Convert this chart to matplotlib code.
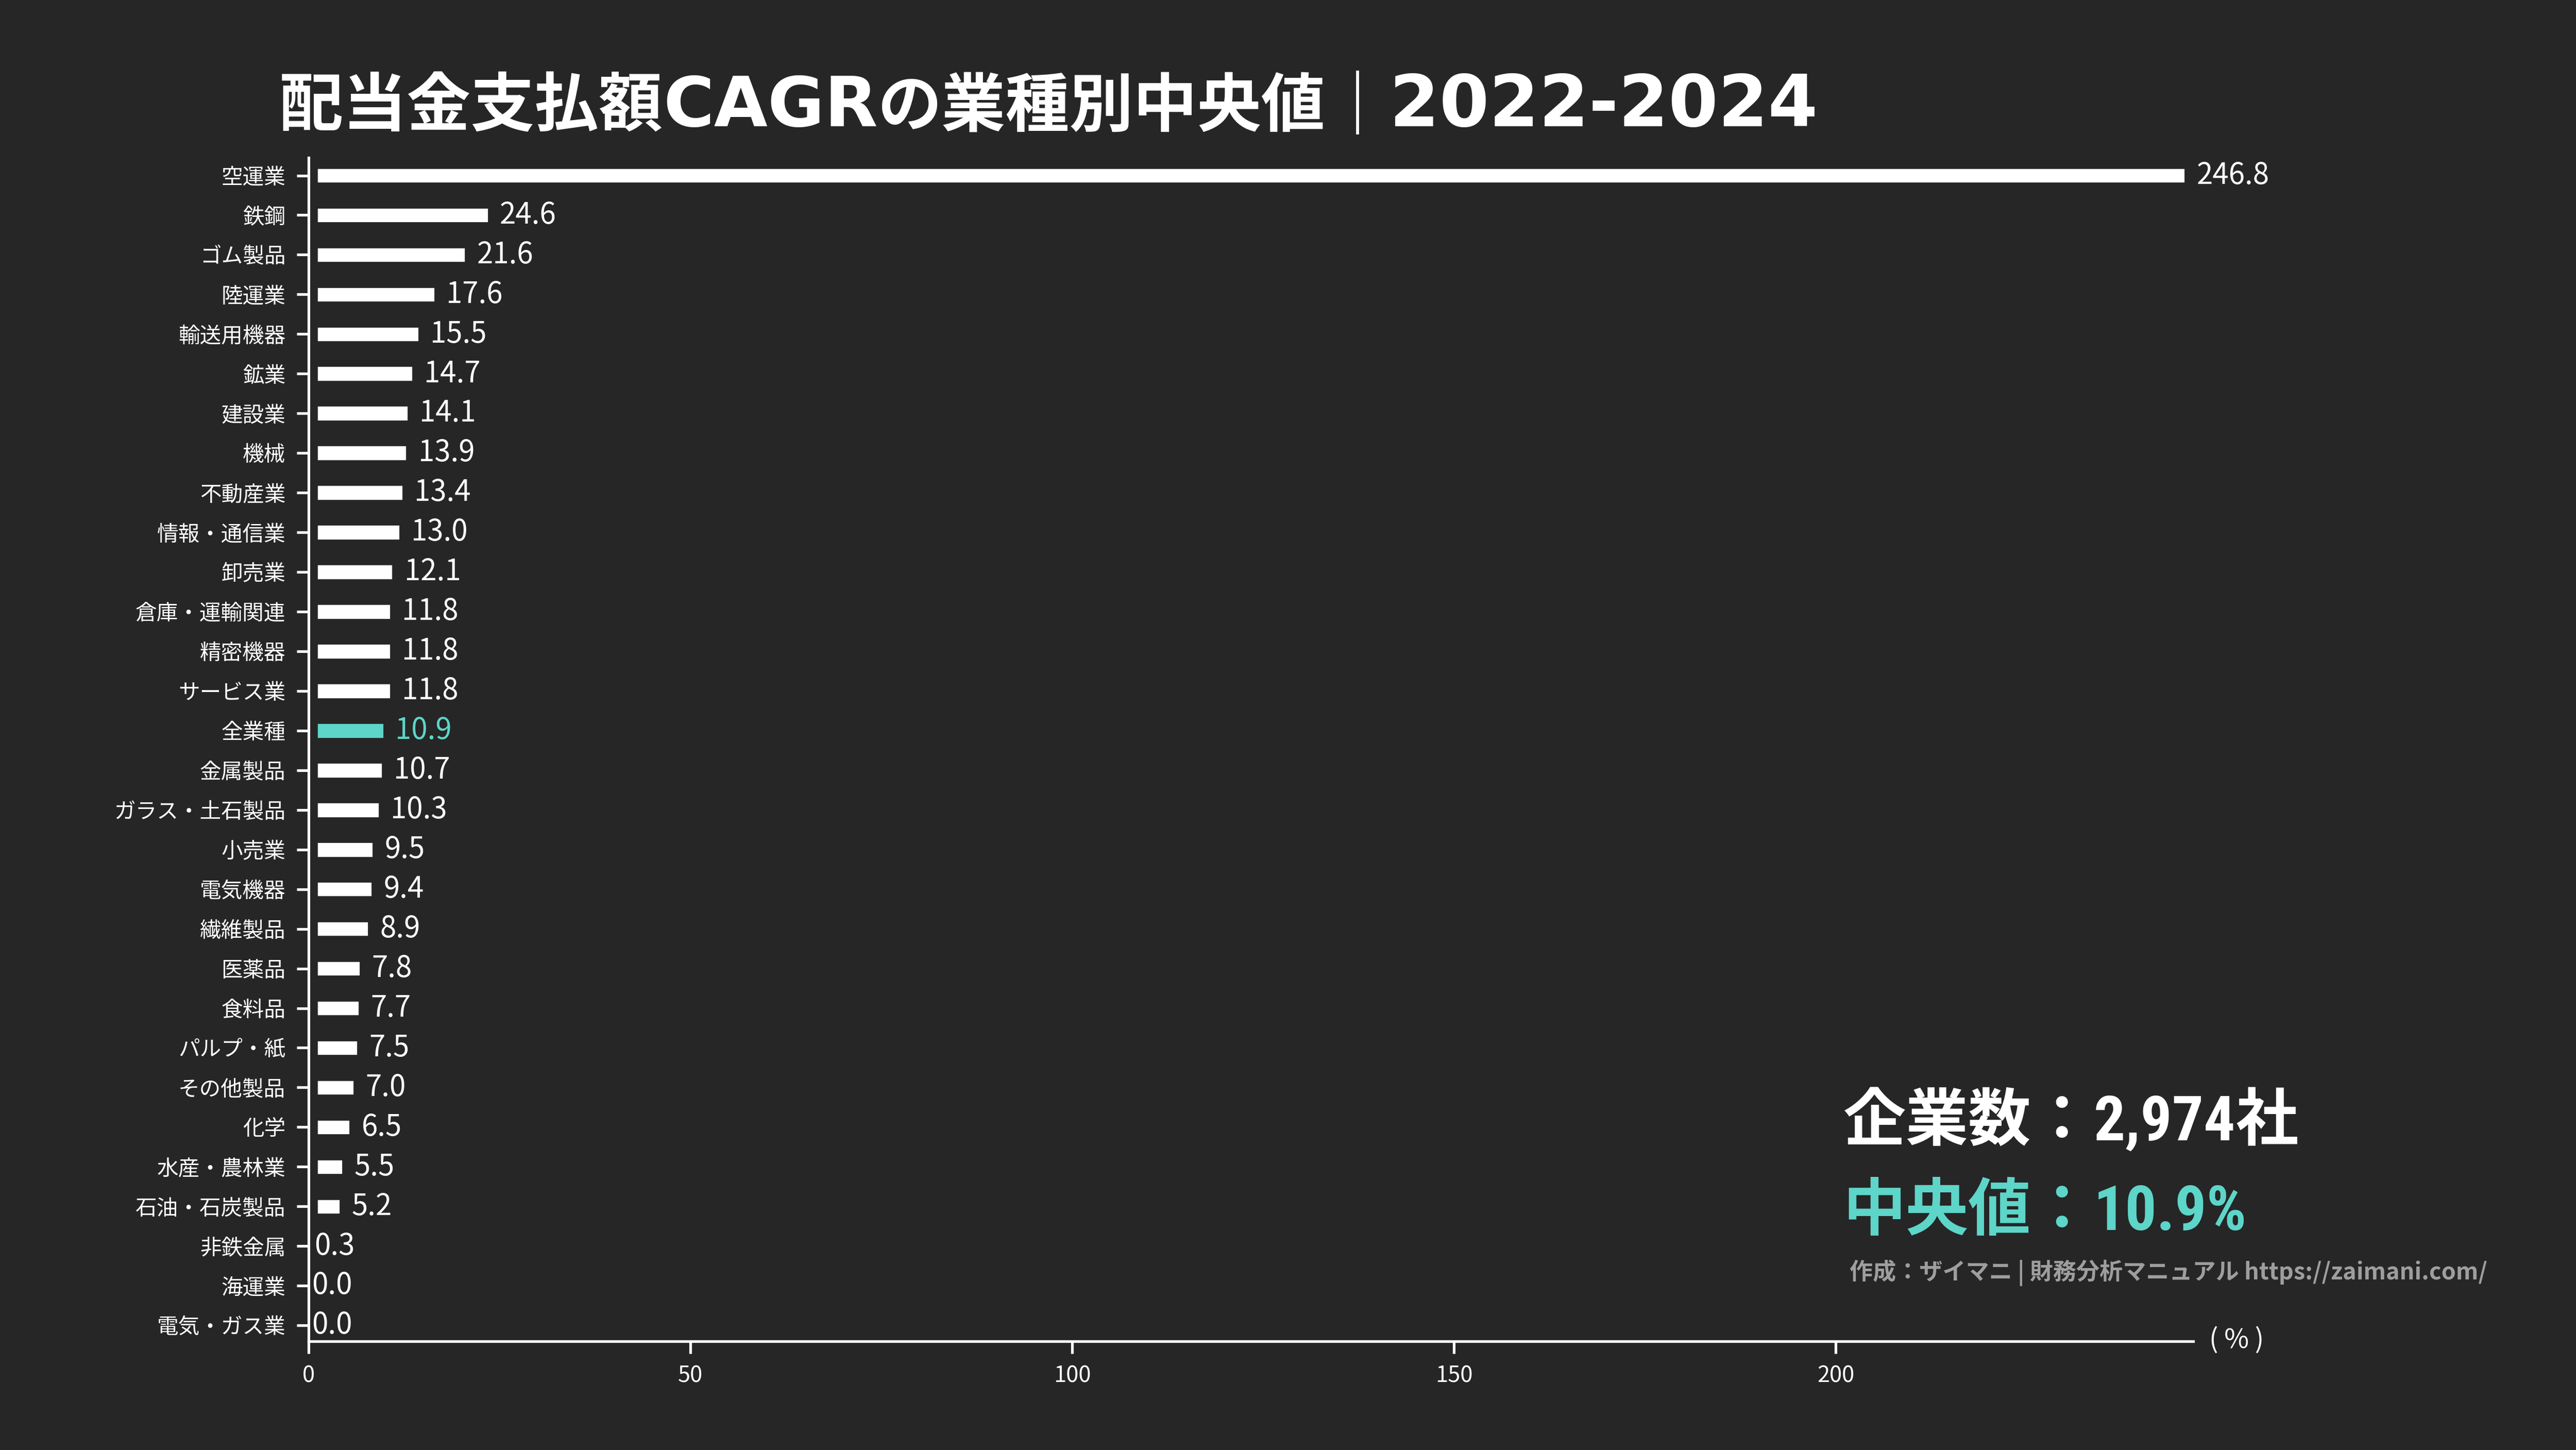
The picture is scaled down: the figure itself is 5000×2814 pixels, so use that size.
import matplotlib
matplotlib.use("Agg")
import matplotlib.pyplot as plt
from matplotlib import font_manager

categories = ["空運業", "鉄鋼", "ゴム製品", "陸運業", "輸送用機器", "鉱業", "建設業", "機械",
              "不動産業", "情報・通信業", "卸売業", "倉庫・運輸関連", "精密機器", "サービス業",
              "全業種", "金属製品", "ガラス・土石製品", "小売業", "電気機器", "繊維製品",
              "医薬品", "食料品", "パルプ・紙", "その他製品", "化学", "水産・農林業",
              "石油・石炭製品", "非鉄金属", "海運業", "電気・ガス業"]
values = [246.8, 24.6, 21.6, 17.6, 15.5, 14.7, 14.1, 13.9, 13.4, 13.0, 12.1, 11.8, 11.8, 11.8,
          10.9, 10.7, 10.3, 9.5, 9.4, 8.9, 7.8, 7.7, 7.5, 7.0, 6.5, 5.5, 5.2, 0.3, 0.0, 0.0]
highlight = "全業種"
xticks = [0, 50, 100, 150, 200]

title_parts = ["配当金支払額", "CAGR", "の業種別中央値", "｜", "2022-2024"]
count_parts = ["企業数：", "2,974", "社"]
median_parts = ["中央値：", "10.9%"]
credit_text = "作成：ザイマニ | 財務分析マニュアル https://zaimani.com/"
unit_text = "( % )"

BG = "#262626"
TEAL = "#5DD5C8"
WHITE = "#FFFFFF"
GRAY = "#9E9E9E"

CJK = "Noto Sans CJK JP"
plt.rcParams["font.family"] = [CJK, "DejaVu Sans"]

flist = font_manager.fontManager.ttflist
names = {f.name for f in flist}
num_style = dict(family=[CJK], fontsize=26)
if "Liberation Sans Narrow" in names:
    num_style = dict(family=["Liberation Sans Narrow", CJK], fontsize=28.5)
elif "Roboto Condensed" in names:
    num_style = dict(family=["Roboto Condensed", CJK], fontsize=28)
elif any(f.name == "DejaVu Sans" and f.stretch == "condensed" and f.weight in ("bold", 700)
         for f in flist):
    num_style = dict(family=["DejaVu Sans", CJK], fontstretch="condensed", fontsize=26)

fig = plt.figure(figsize=(16, 9.0048), dpi=312.5, facecolor=BG)
ax = fig.add_axes([0.1198, 0.075, 0.7316, 0.8163], facecolor=BG)

ypos = list(range(len(categories)))
colors = [TEAL if c == highlight else WHITE for c in categories]
ax.barh(ypos, values, height=0.8, color=colors, edgecolor=BG, linewidth=8.0, zorder=2)

for y, v, c in zip(ypos, values, colors):
    ax.annotate(f"{v:.1f}", xy=(v, y), xytext=(1.5, 0), textcoords="offset points",
                ha="left", va="center", fontsize=13, color=c, zorder=3)

ax.set_yticks(ypos)
ax.set_yticklabels(categories)
ax.set_ylim(len(categories) - 1 + 0.4, -0.45)
ax.set_xlim(0, max(values))
ax.set_xticks(xticks)
ax.set_xticklabels([str(t) for t in xticks])

for s in ["top", "right"]:
    ax.spines[s].set_visible(False)
for s in ["left", "bottom"]:
    ax.spines[s].set_color(WHITE)
    ax.spines[s].set_linewidth(1.2)
    ax.spines[s].set_zorder(4)

ax.tick_params(axis="y", colors=WHITE, labelsize=9.6, length=5.3, width=1.2, pad=5)
ax.tick_params(axis="x", colors=WHITE, labelsize=10, length=5.5, width=1.2, pad=5)
ax.grid(False)

renderer = fig.canvas.get_renderer()


def draw_pieces(x, y, pieces):
    for txt, kw in pieces:
        t = fig.text(x, y, txt, ha="left", va="baseline", **kw)
        bb = t.get_window_extent(renderer=renderer)
        x = bb.x1 / fig.bbox.width


cjk_title = dict(fontsize=28.6, fontweight="bold", color=WHITE, family=[CJK])
lat_title = dict(fontsize=31, fontweight="bold", color=WHITE, family=["DejaVu Sans"])
num_title = dict(lat_title, fontsize=32)
draw_pieces(0.1084, 0.913, [
    (title_parts[0], cjk_title),
    (title_parts[1], lat_title),
    (title_parts[2], cjk_title),
    (title_parts[3], cjk_title),
    (title_parts[4], num_title),
])

big_cjk_w = dict(fontsize=28, fontweight="bold", color=WHITE, family=[CJK])
big_num_w = dict(num_style, fontweight="bold", color=WHITE)
draw_pieces(0.7155, 0.2136, [
    (count_parts[0], big_cjk_w),
    (count_parts[1], big_num_w),
    (count_parts[2], big_cjk_w),
])
big_cjk_t = dict(big_cjk_w, color=TEAL)
big_num_t = dict(big_num_w, color=TEAL)
draw_pieces(0.7155, 0.1517, [
    (median_parts[0], big_cjk_t),
    (median_parts[1], big_num_t),
])

fig.text(0.718, 0.122, credit_text, fontsize=10.4, fontweight="bold", color=GRAY,
         ha="left", va="center")
fig.text(0.8575, 0.0755, unit_text, fontsize=12, color=WHITE, ha="left", va="center")

fig.savefig("out.png", dpi=312.5, facecolor=BG)
